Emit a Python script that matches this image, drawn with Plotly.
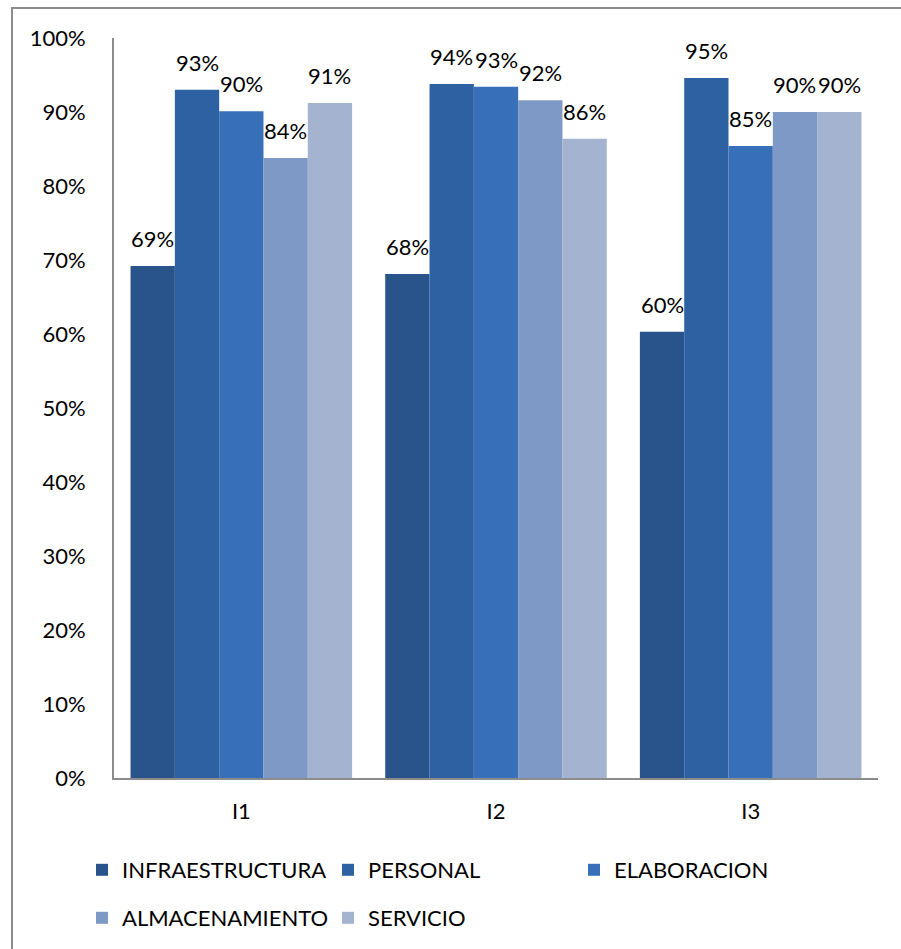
import plotly.graph_objects as go

categories = ["I1", "I2", "I3"]
series_names = ["INFRAESTRUCTURA", "PERSONAL", "ELABORACION", "ALMACENAMIENTO", "SERVICIO"]
infraestructura = [0.692, 0.681, 0.603]
personal = [0.930, 0.938, 0.946]
elaboracion = [0.901, 0.934, 0.854]
almacenamiento = [0.838, 0.916, 0.900]
servicio = [0.912, 0.864, 0.900]
colors = ["#28548B", "#2E61A2", "#3770B8", "#7E99C6", "#A4B3D0"]
y_ticks = [0, 0.1, 0.2, 0.3, 0.4, 0.5, 0.6, 0.7, 0.8, 0.9, 1.0]

values = [infraestructura, personal, elaboracion, almacenamiento, servicio]
FONT = "Lato"
bargap = 0.13

fig = go.Figure()
for i, (name, vals) in enumerate(zip(series_names, values)):
    fig.add_trace(go.Bar(
        x=categories, y=vals, name=name,
        marker=dict(color=colors[i], line=dict(width=0)),
        legend="legend" if i < 3 else "legend2",
    ))

annotations = []
n = len(series_names)
bw = (1 - bargap) / n
for i, vals in enumerate(values):
    for j, v in enumerate(vals):
        annotations.append(dict(
            x=j + (i - (n - 1) / 2) * bw, y=v, xref="x", yref="y",
            text=f"{round(v*100)}%", showarrow=False,
            yanchor="bottom", xanchor="center", yshift=12,
            font=dict(family=FONT, size=22, color="#000000"),
        ))

# outer chart border
L, R, T, B = 114, 23, 38, 171
W, H = 901, 949
pw, ph = W - L - R, H - T - B
def px_x(x):
    return (x - L) / pw
def px_y(y):
    return (H - B - y) / ph

fig.add_shape(type="rect", xref="paper", yref="paper",
              x0=px_x(12), x1=px_x(910), y0=px_y(960), y1=px_y(8),
              line=dict(color="#8C8C8C", width=2), fillcolor="rgba(0,0,0,0)", layer="below")

fig.update_layout(
    width=W, height=H,
    margin=dict(l=L, r=R, t=T, b=B, autoexpand=False),
    paper_bgcolor="white", plot_bgcolor="white",
    barmode="group", bargap=bargap, bargroupgap=0,
    font=dict(family=FONT, size=22, color="#000000"),
    annotations=annotations,
    legend=dict(orientation="h", x=px_x(82), y=px_y(849), xanchor="left", yanchor="top",
                entrywidth=201, entrywidthmode="pixels", itemwidth=30,
                font=dict(family=FONT, size=22), bgcolor="rgba(0,0,0,0)", traceorder="normal"),
    legend2=dict(orientation="h", x=px_x(82), y=px_y(897), xanchor="left", yanchor="top",
                 entrywidth=201, entrywidthmode="pixels", itemwidth=30,
                 font=dict(family=FONT, size=22), bgcolor="rgba(0,0,0,0)", traceorder="normal"),
    showlegend=True,
)
fig.update_yaxes(range=[0, 1], tickvals=y_ticks, tickformat=".0%", showgrid=False,
                 zeroline=False, showline=True, linecolor="#8C8C8C", linewidth=2,
                 ticks="", ticklabelstandoff=22, tickfont=dict(family=FONT, size=22),
                 automargin=False)
fig.update_xaxes(showgrid=False, showline=True, linecolor="#8C8C8C", linewidth=2,
                 ticks="", ticklabelstandoff=13, tickfont=dict(family=FONT, size=22),
                 automargin=False)

fig.write_html("out.html")
